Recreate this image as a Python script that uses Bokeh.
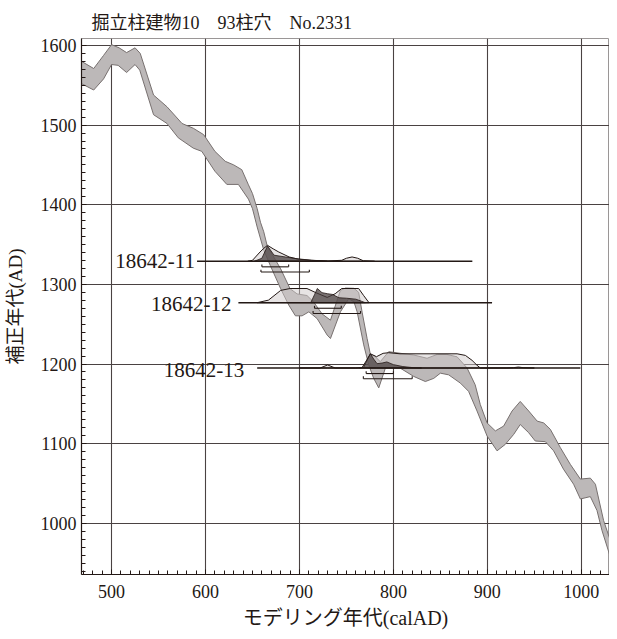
from bokeh.plotting import figure
from bokeh.models import SingleIntervalTicker, Range1d, ColumnDataSource
from bokeh.core.properties import value
from bokeh.embed import file_html
from bokeh.resources import INLINE

# ---------------- data ----------------
title_text = "掘立柱建物10\u300093柱穴\u3000No.2331"
x_label = "モデリング年代(calAD)"
y_label = "補正年代(AD)"

# calibration band (upper / lower edge)
upper_x = [468, 481, 491.5, 500, 508, 516, 525, 530.5, 544.7, 559, 575, 587, 598, 610, 621, 630, 638.6,
           645.7, 650, 655, 658.5, 662, 665.6, 680, 690, 697.5, 708, 715, 724, 733, 743.6, 749, 758,
           763, 766.7, 772, 775.5, 780, 786, 795, 807, 821.6, 835.8, 846.5, 857, 867.8, 878.4, 887,
           892.5, 899.7, 908.5, 917.3, 926.3, 935, 944, 953, 960, 967, 977.7, 988.3, 999, 1009.6,
           1015, 1023.7, 1034.4, 1040]
upper_y = [1580, 1571, 1587.5, 1601, 1597, 1591, 1597, 1590, 1537.7, 1523, 1502, 1496, 1488, 1467,
           1454.5, 1450, 1444, 1425, 1414, 1395, 1378, 1366, 1348.5, 1319.5, 1294.5, 1288, 1286,
           1278, 1263, 1255, 1292.4, 1295.4, 1295, 1290, 1265, 1232, 1212, 1210, 1203, 1215.5,
           1213.5, 1211.3, 1207.2, 1212, 1212, 1209, 1195, 1174, 1149, 1126, 1116, 1122, 1141,
           1153, 1141, 1128.3, 1126, 1118, 1095, 1074, 1055.5, 1056.7, 1049, 1003.6, 966, 952]
lower_x = [468, 481, 491.5, 500, 507, 516, 525, 530, 544.7, 559, 571, 587, 596, 610, 622.7, 635,
           645.7, 650, 655, 662, 669, 680, 688.6, 695.7, 702.8, 710, 718.8, 729.5, 733, 743.6,
           752.5, 758, 761.4, 768.4, 773.7, 779, 784.4, 791.5, 807, 821.6, 834, 843, 850, 858.8,
           871.3, 880, 889, 899.7, 910.3, 919, 928, 935, 944, 951, 961.7, 970.5, 981, 991.8, 999,
           1009.6, 1016.7, 1022, 1030.8, 1040]
lower_y = [1552, 1544, 1558, 1576, 1575, 1566, 1576, 1569, 1513, 1502, 1484, 1471, 1467, 1442,
           1425.5, 1425.5, 1407, 1395, 1372, 1343, 1323.6, 1294.5, 1274, 1260.5, 1260.5, 1265.5,
           1257, 1236.3, 1232, 1265.5, 1282, 1278, 1265.5, 1224, 1199, 1182, 1170, 1195, 1195,
           1184.4, 1178, 1182, 1188.5, 1186.4, 1176, 1165.7, 1141, 1109.6, 1091, 1099, 1111.6,
           1124, 1113.7, 1103.3, 1102.5, 1091, 1068, 1049, 1030.5, 1033.5, 1016, 991, 958, 938]

# samples
sample_names = ["18642-11", "18642-12", "18642-13"]
sample_age = [1329, 1277, 1195]
sample_start = [591, 635, 655]
sample_end = [884, 905, 999]
range68_lo = [660, 716, 771]
range68_hi = [688.5, 744.5, 800]
range95_lo = [659, 714.5, 768]
range95_hi = [710.5, 765, 820]

# unmodelled (light) probability distributions, relative
light11_x = [645, 650, 658, 662, 666, 672, 678, 689, 699, 713, 730, 745, 750, 756, 762, 768, 780]
light11_p = [0, .06, .58, .81, 1, .78, .58, .27, .125, .06, .02, .06, .19, .27, .19, .03, 0]
light12_x = [655, 667, 680, 690, 708, 717, 729.5, 738, 745, 763, 768.4, 774]
light12_p = [0, .16, .77, .89, .89, .64, .33, .56, .89, .89, .44, 0]
light13_x = [700, 722, 730, 738, 760, 766.7, 771, 775.5, 782, 789, 795, 807, 839, 867.8, 876.6,
             883.7, 889, 892.5, 920, 928, 933, 938, 950]
light13_p = [0, 0, .19, 0, 0, .03, .44, .89, .71, .92, .96, .89, .89, .89, .79, .48, .17, 0, 0,
             .02, .06, .02, 0]
# modelled (dark) probability distributions, relative
dark11_x = [652, 660, 666, 673, 685, 696, 713, 730]
dark11_p = [0, .19, .96, .38, .27, .17, .06, 0]
dark12_x = [712, 716, 719, 724, 730, 735, 742, 750, 760, 766, 770]
dark12_p = [0, .5, .89, .63, .56, .52, .31, .28, .22, .09, 0]
dark13_x = [764, 768.4, 772, 775.5, 779, 782.6, 788, 793, 800, 810, 821, 830]
dark13_p = [0, .06, .5, .89, .56, .27, .31, .38, .21, .09, .02, 0]

light_x = [light11_x, light12_x, light13_x]
light_p = [light11_p, light12_p, light13_p]
dark_x = [dark11_x, dark12_x, dark13_x]
dark_p = [dark11_p, dark12_p, dark13_p]

# ---------------- style ----------------
SERIF = "'Liberation Serif', 'Noto Sans CJK JP'"
INK = "#231815"
GRID = "#4a4242"
PEAK_H = 20      # display height of a probability of 1, in y units
B68 = 7          # bracket offsets below the line, y units
B95 = 13.5
TICK_H = 3

p = figure(width=609, height=631, output_backend="svg", toolbar_location=None,
           x_range=Range1d(468, 1030), y_range=Range1d(935.7, 1608.7),
           min_border_left=81, min_border_right=0, min_border_top=38, min_border_bottom=54)

p.title.text = title_text
p.title.text_font = SERIF
p.title.text_font_size = "18px"
p.title.text_font_style = "normal"
p.title.text_color = INK
p.title.align = "left"
p.title.offset = 10
p.title.standoff = 12

p.outline_line_color = "#9a9696"
p.outline_line_width = 1

for ax, lab in ((p.xaxis[0], x_label), (p.yaxis[0], y_label)):
    ax.ticker = SingleIntervalTicker(interval=100, num_minor_ticks=10)
    ax.axis_label = lab
    ax.axis_label_text_font = SERIF
    ax.axis_label_text_font_style = "normal"
    ax.axis_label_text_color = INK
    ax.major_label_text_font = SERIF
    ax.major_label_text_font_size = "18px"
    ax.major_label_text_color = INK
    ax.axis_line_color = INK
    ax.axis_line_width = 1.2
    ax.major_tick_in = 5
    ax.major_tick_out = 0
    ax.minor_tick_in = 4
    ax.minor_tick_out = 0
    ax.major_tick_line_color = INK
    ax.minor_tick_line_color = INK
p.yaxis[0].axis_label_text_font_size = "19px"
p.xaxis[0].axis_label_text_font_size = "20px"
p.yaxis[0].major_label_standoff = 5
p.xaxis[0].major_label_standoff = 10
p.yaxis[0].axis_label_standoff = 12
p.xaxis[0].axis_label_standoff = 6

for g in (p.xgrid[0], p.ygrid[0]):
    g.ticker = SingleIntervalTicker(interval=100)
    g.grid_line_color = GRID
    g.grid_line_width = 1.1

# calibration band
band_x = upper_x + lower_x[::-1]
band_y = upper_y + lower_y[::-1]
p.patch(band_x, band_y, fill_color="#bcb8b8", line_color="#77706f", line_width=1)

# distributions
for i in range(3):
    base = sample_age[i]
    lx = light_x[i]
    ly = [base + PEAK_H * v for v in light_p[i]]
    p.patch(lx + lx[::-1], ly + [base] * len(lx), fill_color="#cfcaca", fill_alpha=0.5,
            line_color=INK, line_width=1)
for i in range(3):
    base = sample_age[i]
    dx = dark_x[i]
    dy = [base + PEAK_H * v for v in dark_p[i]]
    p.patch(dx + dx[::-1], dy + [base] * len(dx), fill_color="#453b3c", fill_alpha=0.72,
            line_color=INK, line_width=0.8)

# sample lines
src = ColumnDataSource(dict(x0=sample_start, x1=sample_end, y=sample_age, name=sample_names))
p.segment(x0="x0", y0="y", x1="x1", y1="y", source=src, line_color=INK, line_width=1.6)

# range brackets
for lo, hi, off in ((range68_lo, range68_hi, B68), (range95_lo, range95_hi, B95)):
    yy = [a - off for a in sample_age]
    p.segment(x0=lo, y0=yy, x1=hi, y1=yy, line_color=INK, line_width=1.1)
    p.segment(x0=lo, y0=yy, x1=lo, y1=[v + TICK_H for v in yy], line_color=INK, line_width=1.1)
    p.segment(x0=hi, y0=yy, x1=hi, y1=[v + TICK_H for v in yy], line_color=INK, line_width=1.1)

# sample labels
for i in range(3):
    p.text(x=[sample_start[i]], y=[sample_age[i]], text=[sample_names[i]],
           text_font=value(SERIF), text_font_size="21px", text_color=INK,
           text_align="right", text_baseline="middle",
           x_offset=[-2, -7, -13][i], y_offset=[0, 1, 2][i])

open("out.html", "w").write(file_html(p, INLINE))
